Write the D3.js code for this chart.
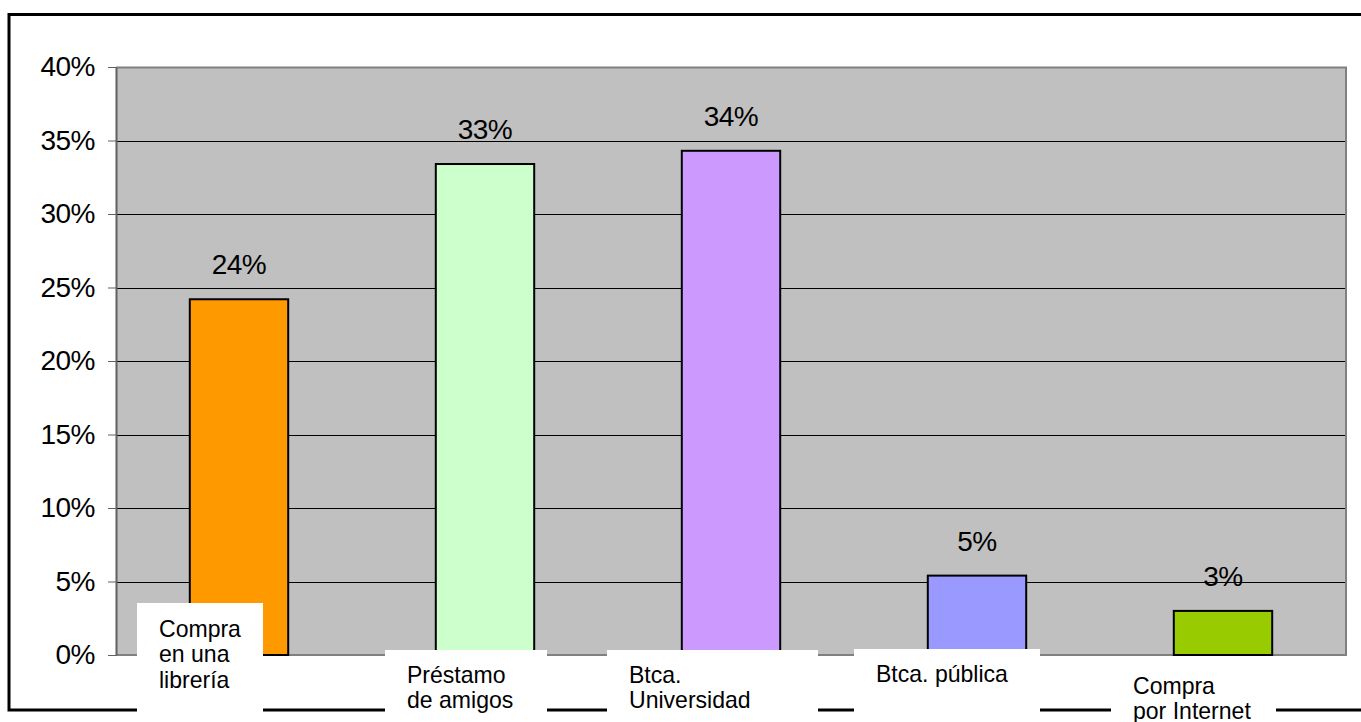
<!DOCTYPE html>
<html>
<head>
<meta charset="utf-8">
<script src="https://cdn.jsdelivr.net/npm/d3@7"></script>
<style>
  html, body { margin: 0; padding: 0; background: #fff; }
  svg { display: block; font-family: "Liberation Sans", Arial, sans-serif; }
</style>
</head>
<body>
<svg id="chart" width="1361" height="722"></svg>
<script>
// Categories (each label split into its display lines)
const categories = [
  ["Compra", "en una", "librería"],
  ["Préstamo", "de amigos"],
  ["Btca.", "Universidad"],
  ["Btca. pública"],
  ["Compra", "por Internet"]
];
// Share of respondents per source
const values = [0.242, 0.334, 0.343, 0.054, 0.030];
// Bar fill colours
const colors = ["#FF9900", "#CCFFCC", "#CC99FF", "#9999FF", "#99CC00"];
// Y axis ticks
const yTicks = [0, 0.05, 0.10, 0.15, 0.20, 0.25, 0.30, 0.35, 0.40];

// Category label boxes: left offset from band centre, width, top edge, text baseline of first line
const labelBoxes = [
  { dx: -102, w: 126, top: 603, base: 637 },
  { dx: -100, w: 162, top: 650, base: 683 },
  { dx: -124, w: 211, top: 650, base: 683 },
  { dx: -123, w: 186, top: 649, base: 682 },
  { dx: -112, w: 165, top: 662, base: 694 }
];

const svg = d3.select("#chart");
const plot = { left: 116, right: 1346, top: 67, bottom: 655 };

const x = d3.scaleBand()
  .domain(d3.range(categories.length))
  .range([plot.left, plot.right])
  .paddingInner(0.6)
  .paddingOuter(0.3);

const y = d3.scaleLinear()
  .domain([0, 0.40])
  .range([plot.bottom, plot.top]);

// Outer chart frame
svg.append("rect")
  .attr("x", 9).attr("y", 14.5)
  .attr("width", 1400).attr("height", 695.5)
  .attr("fill", "none")
  .attr("stroke", "#000")
  .attr("stroke-width", 3);

// Plot background
svg.append("rect")
  .attr("x", plot.left).attr("y", plot.top)
  .attr("width", plot.right - plot.left)
  .attr("height", plot.bottom - plot.top)
  .attr("fill", "#C0C0C0");

// Horizontal grid lines
svg.append("g")
  .selectAll("line")
  .data(yTicks.filter(t => t > 0 && t < 0.40))
  .join("line")
  .attr("x1", plot.left).attr("x2", plot.right)
  .attr("y1", d => Math.round(y(d)) + 0.5)
  .attr("y2", d => Math.round(y(d)) + 0.5)
  .attr("stroke", "#000")
  .attr("stroke-width", 1);

// Plot border (top, right, bottom) in grey
svg.append("path")
  .attr("d", `M${plot.left},${plot.top + 0.5}H${plot.right}V${plot.bottom}H${plot.left}`)
  .attr("fill", "none")
  .attr("stroke", "#808080")
  .attr("stroke-width", 2);

// Y axis
const yAxis = d3.axisLeft(y)
  .tickValues(yTicks)
  .tickFormat(d3.format(".0%"))
  .tickSizeInner(8)
  .tickSizeOuter(0)
  .tickPadding(13);

const gy = svg.append("g")
  .attr("transform", `translate(${plot.left},0)`)
  .call(yAxis);
gy.select(".domain").attr("stroke", "#606060").attr("stroke-width", 2);
gy.selectAll(".tick line").attr("stroke", "#606060");
gy.selectAll(".tick text")
  .attr("font-family", "'Liberation Sans', Arial, sans-serif")
  .attr("font-size", 28)
  .attr("letter-spacing", -0.5)
  .attr("fill", "#000");

// Bars
svg.append("g")
  .selectAll("rect")
  .data(values)
  .join("rect")
  .attr("x", (d, i) => x(i))
  .attr("y", d => y(d))
  .attr("width", x.bandwidth())
  .attr("height", d => y(0) - y(d))
  .attr("fill", (d, i) => colors[i])
  .attr("stroke", "#000")
  .attr("stroke-width", 2);

// Value labels
svg.append("g")
  .selectAll("text")
  .data(values)
  .join("text")
  .attr("x", (d, i) => x(i) + x.bandwidth() / 2)
  .attr("y", d => y(d) - 25)
  .attr("text-anchor", "middle")
  .attr("font-size", 28)
  .attr("letter-spacing", -0.5)
  .attr("fill", "#000")
  .text(d3.format(".0%"));

// Category labels on white boxes
const cat = svg.append("g")
  .selectAll("g")
  .data(categories)
  .join("g");

cat.append("rect")
  .attr("x", (d, i) => x(i) + x.bandwidth() / 2 + labelBoxes[i].dx)
  .attr("y", (d, i) => labelBoxes[i].top)
  .attr("width", (d, i) => labelBoxes[i].w)
  .attr("height", (d, i) => 722 - labelBoxes[i].top)
  .attr("fill", "#fff");

cat.each(function (lines, i) {
  const b = labelBoxes[i];
  const x0 = x(i) + x.bandwidth() / 2 + b.dx + 22;
  const t = d3.select(this).append("text")
    .attr("transform", `translate(${x0},0) scale(0.96,1)`)
    .attr("font-size", 24)
    .attr("fill", "#000");
  lines.forEach((line, k) => {
    t.append("tspan")
      .attr("x", 0)
      .attr("y", b.base + k * 25.5)
      .text(line);
  });
});
</script>
</body>
</html>
